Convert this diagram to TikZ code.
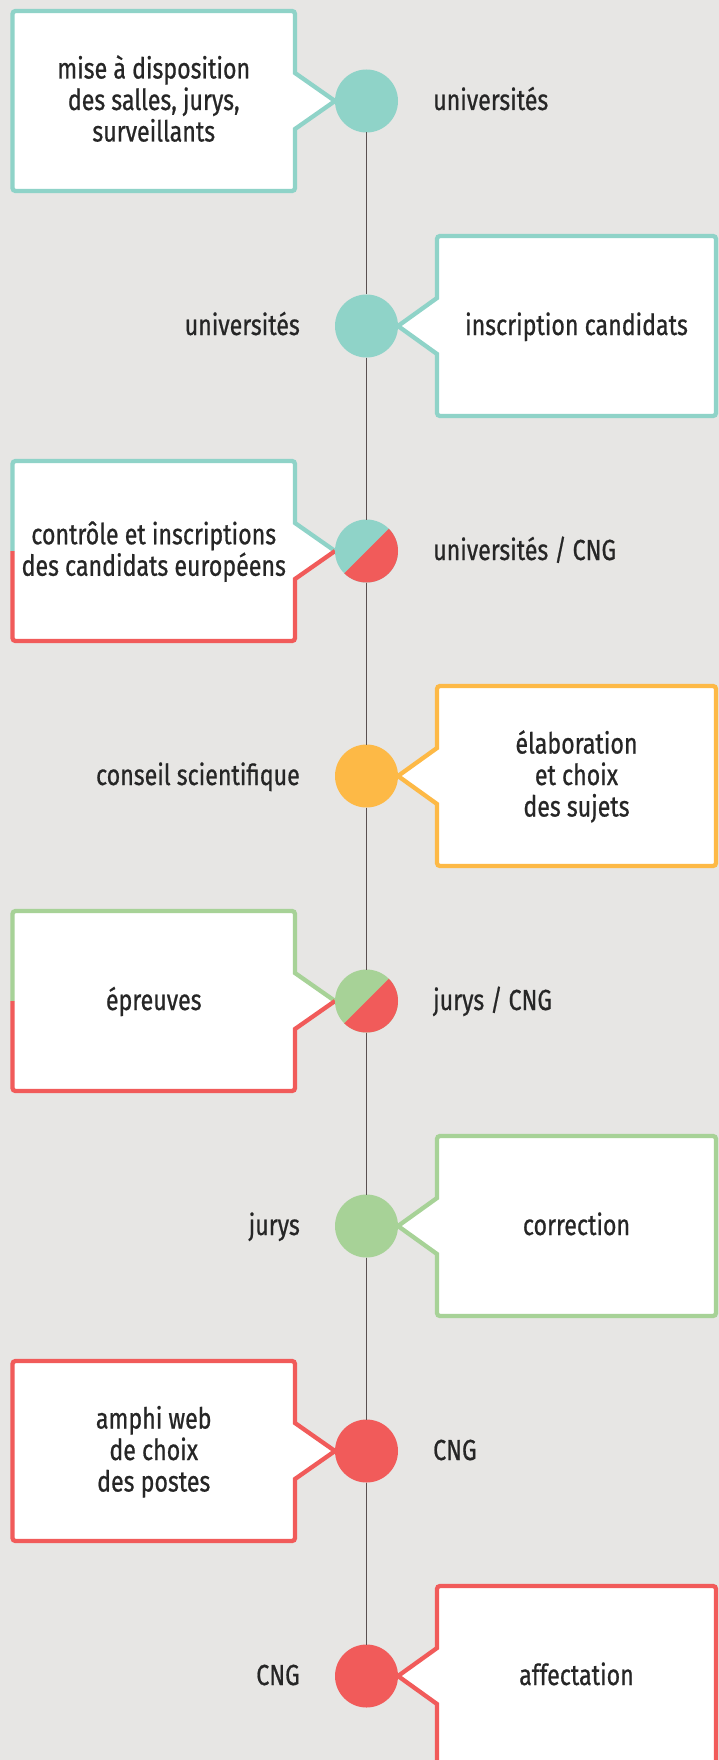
\documentclass[tikz,border=0pt]{standalone}
\usepackage{fontspec}
\setmainfont{Fira Sans}[FakeStretch=0.80, FakeBold=0.7]
\usetikzlibrary{calc}
\definecolor{bgc}{HTML}{E7E6E4}
\definecolor{tealc}{HTML}{8FD3C8}
\definecolor{redc}{HTML}{F15B5A}
\definecolor{yellowc}{HTML}{FDB946}
\definecolor{greenc}{HTML}{A7D297}
\definecolor{spinec}{HTML}{5A5050}
\definecolor{txtc}{HTML}{262626}
\tikzset{
  boxline/.style={line width=4.3pt, line join=miter},
  dot/.style={circle, minimum size=63pt, inner sep=0pt, outer sep=0pt},
  spine/.style={draw=spinec, line width=1.1pt},
  lbl/.style={font=\fontsize{29}{31.5}\selectfont, text=txtc, inner sep=0pt},
  boxtxt/.style={lbl, align=center},
}
\newcommand\myLeftBox[2]{%
  \filldraw[boxline, draw=#2, fill=white] (335,-#1) -- (295,-#1+28)
    [rounded corners=3pt] -- (295,-#1+90) -- (12.5,-#1+90) -- (12.5,-#1-90) -- (295,-#1-90)
    [sharp corners] -- (295,-#1-28) -- cycle;}
\newcommand\myRightBox[2]{%
  \filldraw[boxline, draw=#2, fill=white] (398,-#1) -- (437,-#1+28)
    [rounded corners=3pt] -- (437,-#1+90) -- (716,-#1+90) -- (716,-#1-90) -- (437,-#1-90)
    [sharp corners] -- (437,-#1-28) -- cycle;}
\newcommand\mySplitLeftBox[3]{%
  \fill[white] (335,-#1) -- (295,-#1+28) -- (295,-#1+90) -- (12.5,-#1+90) -- (12.5,-#1-90) -- (295,-#1-90) -- (295,-#1-28) -- cycle;
  \draw[boxline, draw=#2] (12.5,-#1) [rounded corners=3pt] -- (12.5,-#1+90) -- (295,-#1+90) [sharp corners] -- (295,-#1+28) -- (335,-#1);
  \draw[boxline, draw=#3] (12.5,-#1) [rounded corners=3pt] -- (12.5,-#1-90) -- (295,-#1-90) [sharp corners] -- (295,-#1-28) -- (335,-#1);}
\begin{document}
\begin{tikzpicture}[x=1pt,y=1pt]
\fill[bgc] (0,0) rectangle (719,-1760);
\useasboundingbox (0,0) rectangle (719,-1760);

% boxes
\myLeftBox{101}{tealc}
\myRightBox{326}{tealc}
\mySplitLeftBox{551}{tealc}{redc}
\myRightBox{776}{yellowc}
\mySplitLeftBox{1001}{greenc}{redc}
\myRightBox{1226}{greenc}
\myLeftBox{1451}{redc}
\myRightBox{1676}{redc}

% circles
\node[dot, fill=tealc] (c1) at (366.5,-101) {};
\node[dot, fill=tealc] (c2) at (366.5,-326) {};
\node[dot, fill=tealc] (c3) at (366.5,-551) {};
\node[dot, fill=yellowc] (c4) at (366.5,-776) {};
\node[dot, fill=greenc] (c5) at (366.5,-1001) {};
\node[dot, fill=greenc] (c6) at (366.5,-1226) {};
\node[dot, fill=redc] (c7) at (366.5,-1451) {};
\node[dot, fill=redc] (c8) at (366.5,-1676) {};
\fill[redc] (c3.45) arc[start angle=45, end angle=-135, radius=31.5pt] -- cycle;
\fill[redc] (c5.45) arc[start angle=45, end angle=-135, radius=31.5pt] -- cycle;

% spine
\draw[spine] (c1) -- (c2);
\draw[spine] (c2) -- (c3);
\draw[spine] (c3) -- (c4);
\draw[spine] (c4) -- (c5);
\draw[spine] (c5) -- (c6);
\draw[spine] (c6) -- (c7);
\draw[spine] (c7) -- (c8);

% box texts (base = baseline of last line)
\node[boxtxt, anchor=base] (t1) at (153.75,-101-9-31.5) {mise à disposition\\des salles, jurys,\\surveillants};
\node[boxtxt, anchor=base] (t2) at (576.5,-326-9) {inscription candidats};
\node[boxtxt, anchor=base] (t3) at (153.75,-551-9-15.75) {contrôle et inscriptions\\des candidats européens};
\node[boxtxt, anchor=base] (t4) at (576.5,-776-9-31.5) {élaboration\\et choix\\des sujets};
\node[boxtxt, anchor=base] (t5) at (153.75,-1001-9) {épreuves};
\node[boxtxt, anchor=base] (t6) at (576.5,-1226-9) {correction};
\node[boxtxt, anchor=base] (t7) at (153.75,-1451-9-31.5) {amphi web\\de choix\\des postes};
\node[boxtxt, anchor=base] (t8) at (576.5,-1676-9) {affectation};

% side labels
\node[lbl, anchor=base west] (l1) at (433,-101-9) {universités};
\node[lbl, anchor=base east] (l2) at (300,-326-9) {universités};
\node[lbl, anchor=base west] (l3) at (433,-551-9) {universités / CNG};
\node[lbl, anchor=base east] (l4) at (300,-776-9) {conseil scientifique};
\node[lbl, anchor=base west] (l5) at (433,-1001-9) {jurys / CNG};
\node[lbl, anchor=base east] (l6) at (300,-1226-9) {jurys};
\node[lbl, anchor=base west] (l7) at (433,-1451-9) {CNG};
\node[lbl, anchor=base east] (l8) at (300,-1676-9) {CNG};
\end{tikzpicture}
\end{document}
